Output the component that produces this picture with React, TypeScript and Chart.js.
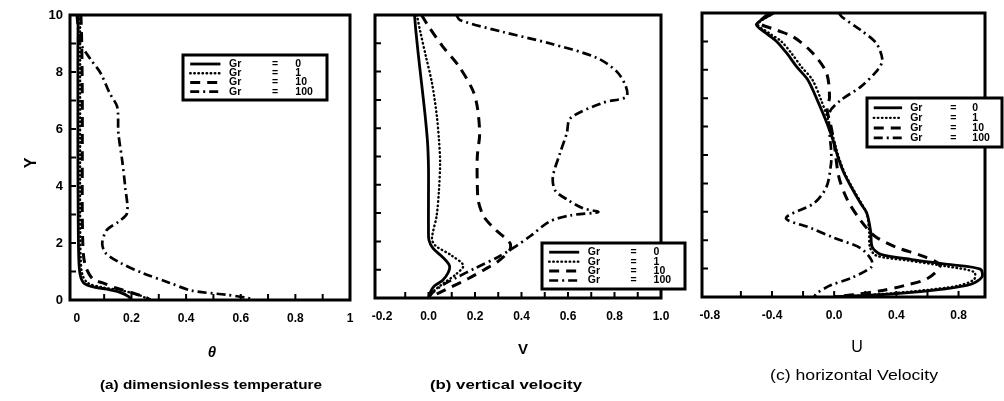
import React, { useEffect, useRef } from "react";
import { Chart, registerables } from "chart.js";

Chart.register(...registerables);

const FONT = "'Liberation Sans', Arial, sans-serif";

// Curve labels shared by the three panels
const seriesLabels = ["Gr = 0", "Gr = 1", "Gr = 10", "Gr = 100"];

// Each pair is [profile value, Y]

// (a) dimensionless temperature θ
const thetaGr0: [number, number][] = [
  [0.005, 10], [0.004, 9], [0.004, 7], [0.004, 5], [0.005, 3], [0.007, 1.5], [0.012, 0.9],
  [0.025, 0.6], [0.06, 0.46], [0.11, 0.38], [0.16, 0.26], [0.19, 0.12], [0.2, 0],
];
const thetaGr1: [number, number][] = [
  [0.012, 10], [0.012, 9], [0.012, 7], [0.012, 5], [0.012, 3], [0.014, 1.5], [0.02, 0.9],
  [0.04, 0.6], [0.09, 0.45], [0.16, 0.34], [0.22, 0.2], [0.25, 0.08], [0.26, 0],
];
const thetaGr10: [number, number][] = [
  [0.015, 10], [0.018, 9], [0.02, 7], [0.02, 5], [0.02, 3], [0.024, 1.6], [0.035, 1.1],
  [0.06, 0.72], [0.095, 0.6], [0.14, 0.43], [0.2, 0.26], [0.25, 0.1], [0.27, 0],
];
const thetaGr100: [number, number][] = [
  [0, 10], [0.004, 9.6], [0.014, 9.0], [0.05, 8.45], [0.087, 7.96], [0.12, 7.26], [0.148, 6.77],
  [0.152, 5.86], [0.166, 4.9], [0.177, 3.97], [0.184, 3.05], [0.152, 2.74], [0.11, 2.46],
  [0.093, 2.0], [0.105, 1.65], [0.16, 1.3], [0.24, 0.95], [0.34, 0.6], [0.42, 0.33],
  [0.55, 0.18], [0.62, 0.08], [0.65, 0],
];

// (b) vertical velocity V
const vGr0: [number, number][] = [
  [-0.06, 10], [-0.055, 9.5], [-0.045, 8.7], [-0.03, 7.6], [-0.015, 6.5], [-0.004, 5.5],
  [0, 4.6], [0, 3.5], [0, 2.5], [0.002, 2.05], [0.02, 1.75], [0.06, 1.45], [0.09, 1.15],
  [0.085, 0.9], [0.06, 0.62], [0.025, 0.42], [0.008, 0.2], [0, 0],
];
const vGr1: [number, number][] = [
  [-0.05, 10], [-0.035, 9.4], [-0.01, 8.5], [0.015, 7.6], [0.035, 6.5], [0.045, 5.6],
  [0.05, 4.8], [0.045, 3.8], [0.035, 2.9], [0.015, 2.1], [0.03, 1.85], [0.1, 1.5],
  [0.15, 1.15], [0.12, 0.85], [0.07, 0.55], [0.03, 0.3], [0.008, 0.12], [0, 0],
];
const vGr10: [number, number][] = [
  [-0.03, 10], [0.0, 9.6], [0.06, 8.9], [0.13, 8.2], [0.19, 7.35], [0.21, 6.75], [0.22, 5.8],
  [0.21, 5.0], [0.21, 4.0], [0.215, 3.4], [0.24, 2.85], [0.29, 2.4], [0.35, 1.95], [0.35, 1.7],
  [0.3, 1.3], [0.24, 1.0], [0.17, 0.68], [0.1, 0.4], [0.05, 0.2], [0, 0],
];
const vGr100: [number, number][] = [
  [0.12, 10], [0.135, 9.82], [0.32, 9.4], [0.52, 9.0], [0.72, 8.5], [0.81, 8.0], [0.85, 7.45],
  [0.85, 7.1], [0.75, 6.9], [0.61, 6.35], [0.595, 5.83], [0.565, 5.1], [0.535, 4.28],
  [0.545, 3.8], [0.6, 3.46], [0.665, 3.17], [0.73, 3.04], [0.61, 2.92], [0.52, 2.7],
  [0.44, 2.2], [0.37, 1.8], [0.3, 1.45], [0.2, 1.05], [0.12, 0.72], [0.06, 0.45],
  [0.02, 0.2], [0, 0],
];

// (c) horizontal velocity U
const uGr0: [number, number][] = [
  [-0.39, 10], [-0.5, 9.6], [-0.44, 9.3], [-0.37, 9.0], [-0.3, 8.55], [-0.24, 8.1],
  [-0.17, 7.65], [-0.11, 6.95], [-0.045, 6.1], [0, 5.4], [0.02, 5.0], [0.06, 4.4],
  [0.11, 3.87], [0.17, 3.3], [0.21, 2.95], [0.235, 2.3], [0.245, 1.76], [0.3, 1.5],
  [0.5, 1.32], [0.75, 1.14], [0.94, 0.98], [0.95, 0.7], [0.88, 0.45], [0.7, 0.28],
  [0.4, 0.12], [0, 0],
];
const uGr1: [number, number][] = [
  [-0.39, 10], [-0.49, 9.6], [-0.42, 9.3], [-0.34, 9.0], [-0.27, 8.55], [-0.21, 8.1],
  [-0.14, 7.65], [-0.085, 6.95], [-0.03, 6.1], [0.005, 5.4], [0.025, 5.0], [0.065, 4.4],
  [0.115, 3.87], [0.175, 3.3], [0.21, 2.95], [0.225, 2.3], [0.23, 1.76], [0.27, 1.46],
  [0.48, 1.28], [0.72, 1.08], [0.9, 0.88], [0.9, 0.62], [0.8, 0.4], [0.6, 0.25],
  [0.3, 0.1], [0, 0],
];
const uGr10: [number, number][] = [
  [-0.42, 10], [-0.48, 9.65], [-0.37, 9.4], [-0.26, 9.15], [-0.14, 8.6], [-0.05, 7.9],
  [-0.03, 7.04], [-0.045, 6.6], [-0.02, 6.0], [0, 5.4], [0.03, 4.23], [0.085, 3.42],
  [0.17, 2.7], [0.26, 2.15], [0.4, 1.75], [0.58, 1.42], [0.68, 1.1], [0.6, 0.65],
  [0.45, 0.4], [0.3, 0.22], [0.12, 0.08], [0, 0],
];
const uGr100: [number, number][] = [
  [0.03, 10], [0.05, 9.86], [0.17, 9.4], [0.27, 8.94], [0.31, 8.35], [0.28, 8.0], [0.17, 7.4],
  [0.045, 6.94], [-0.03, 6.5], [-0.03, 5.8], [-0.02, 5.2], [-0.02, 4.7], [-0.05, 3.87],
  [-0.13, 3.3], [-0.31, 2.78], [-0.15, 2.43], [0, 2.08], [0.17, 1.72], [0.24, 1.3],
  [0.24, 1.06], [0.11, 0.67], [-0.02, 0.42], [-0.11, 0.14], [-0.13, 0],
];

// Axis ticks
const yTickValues = [0, 1, 2, 3, 4, 5, 6, 7, 8, 9, 10];
const thetaTicks = [0, 0.2, 0.4, 0.6, 0.8, 1];
const thetaMinor = [0.1, 0.2, 0.3, 0.4, 0.5, 0.6, 0.7, 0.8, 0.9];
const vTicks = [-0.2, 0, 0.2, 0.4, 0.6, 0.8, 1.0];
const vMinor = [-0.1, 0, 0.1, 0.2, 0.3, 0.4, 0.5, 0.6, 0.7, 0.8, 0.9];
const uTicks = [-0.8, -0.4, 0, 0.4, 0.8];
const uMinor = [-0.6, -0.4, -0.2, 0, 0.2, 0.4, 0.6, 0.8];

// Line styles for the four curves: solid, dotted, dashed, dash-dot
const lineStyles = [
  { dash: [] as number[], width: 2.8, cap: "butt" },
  { dash: [0.5, 3.6], width: 2.4, cap: "round" },
  { dash: [10, 7], width: 3, cap: "butt" },
  { dash: [9, 4, 2, 4], width: 2.7, cap: "butt" },
];

// Free text drawn on each panel; `fit` stretches the text to a given width
type TextItem = { text: string; x: number; y: number; font: string; rotate?: boolean; fit?: number };

interface PanelSpec {
  left: number;
  width: number;
  area: { left: number; right: number; top: number; bottom: number };
  xMin: number;
  xMax: number;
  xTicks: number[];
  xMinor: number[];
  xFormat: (v: number) => string;
  yLabelled: boolean;
  series: [number, number][][];
  legend: { x: number; y: number; w: number; h: number };
  texts: TextItem[];
}

const HEIGHT = 401;

const panels: PanelSpec[] = [
  {
    left: 0,
    width: 360,
    area: { left: 70, right: 350, top: 15, bottom: 300 },
    xMin: -0.025,
    xMax: 1.0,
    xTicks: thetaTicks,
    xMinor: thetaMinor,
    xFormat: (v) => (v === 0 || v === 1 ? String(v) : v.toFixed(1)),
    yLabelled: true,
    series: [thetaGr0, thetaGr1, thetaGr10, thetaGr100],
    legend: { x: 183, y: 55, w: 144, h: 45 },
    texts: [
      { text: "Y", x: 32, y: 163, font: `bold 16px ${FONT}`, rotate: true },
      { text: "θ", x: 212, y: 353, font: `italic bold 15px ${FONT}` },
      { text: "(a) dimensionless temperature", x: 211, y: 385, font: `bold 13px ${FONT}`, fit: 222 },
    ],
  },
  {
    left: 360,
    width: 330,
    area: { left: 15, right: 301, top: 15, bottom: 298 },
    xMin: -0.23,
    xMax: 1.0,
    xTicks: vTicks,
    xMinor: vMinor,
    xFormat: (v) => v.toFixed(1),
    yLabelled: false,
    series: [vGr0, vGr1, vGr10, vGr100],
    legend: { x: 182, y: 243, w: 143, h: 46 },
    texts: [
      { text: "V", x: 163, y: 350, font: `bold 15px ${FONT}` },
      { text: "(b) vertical velocity", x: 146, y: 385, font: `bold 13px ${FONT}`, fit: 152 },
    ],
  },
  {
    left: 690,
    width: 314,
    area: { left: 12, right: 295, top: 13, bottom: 297 },
    xMin: -0.85,
    xMax: 0.97,
    xTicks: uTicks,
    xMinor: uMinor,
    xFormat: (v) => v.toFixed(1),
    yLabelled: false,
    series: [uGr0, uGr1, uGr10, uGr100],
    legend: { x: 177, y: 98, w: 135, h: 49 },
    texts: [
      { text: "U", x: 167, y: 348, font: `16px ${FONT}` },
      { text: "(c) horizontal Velocity", x: 164, y: 376, font: `14px ${FONT}`, fit: 168 },
    ],
  },
];

function makePlugins(spec: PanelSpec) {
  const frame = {
    id: "frame",
    afterDatasetsDraw(chart: any) {
      const { ctx, chartArea: a, scales } = chart;
      ctx.save();
      ctx.strokeStyle = "#000";
      ctx.lineWidth = 3;
      ctx.setLineDash([]);
      ctx.strokeRect(a.left, a.top, a.right - a.left, a.bottom - a.top);
      ctx.lineWidth = 2;
      ctx.beginPath();
      for (const v of spec.xMinor) {
        const px = scales.x.getPixelForValue(v);
        ctx.moveTo(px, a.bottom);
        ctx.lineTo(px, a.bottom - 6);
      }
      for (const v of yTickValues) {
        if (v === 0 || v === 10) continue;
        const py = scales.y.getPixelForValue(v);
        ctx.moveTo(a.left, py);
        ctx.lineTo(a.left + 6, py);
      }
      ctx.stroke();
      ctx.restore();
    },
  };

  const legendBox = {
    id: "legendBox",
    afterDraw(chart: any) {
      const { ctx } = chart;
      const { x, y, w, h } = spec.legend;
      ctx.save();
      ctx.fillStyle = "#fff";
      ctx.fillRect(x, y, w, h);
      ctx.strokeStyle = "#000";
      ctx.lineWidth = 3;
      ctx.setLineDash([]);
      ctx.strokeRect(x, y, w, h);
      chart.data.datasets.forEach((ds: any, i: number) => {
        const ry = y + h * (0.2 + 0.205 * i);
        ctx.setLineDash(ds.borderDash || []);
        ctx.lineCap = ds.borderCapStyle || "butt";
        ctx.lineWidth = ds.borderWidth;
        ctx.beginPath();
        ctx.moveTo(x + 0.05 * w, ry);
        ctx.lineTo(x + 0.26 * w, ry);
        ctx.stroke();
        ctx.setLineDash([]);
        ctx.lineCap = "butt";
        const [name, num] = String(ds.label).split(" = ");
        ctx.fillStyle = "#000";
        ctx.font = `bold 10.5px ${FONT}`;
        ctx.textBaseline = "middle";
        ctx.textAlign = "left";
        ctx.fillText(name, x + 0.32 * w, ry);
        ctx.textAlign = "center";
        ctx.fillText("=", x + 0.64 * w, ry);
        ctx.textAlign = "left";
        ctx.fillText(num, x + 0.78 * w, ry);
      });
      ctx.restore();
    },
  };

  const panelText = {
    id: "panelText",
    afterDraw(chart: any) {
      const { ctx } = chart;
      ctx.save();
      ctx.fillStyle = "#000";
      ctx.textAlign = "center";
      ctx.textBaseline = "middle";
      for (const t of spec.texts) {
        ctx.font = t.font;
        ctx.save();
        ctx.translate(t.x, t.y);
        if (t.rotate) ctx.rotate(-Math.PI / 2);
        if (t.fit) {
          const m = ctx.measureText(t.text).width;
          if (m > 0) ctx.scale(t.fit / m, 1);
        }
        ctx.fillText(t.text, 0, 0);
        ctx.restore();
      }
      ctx.restore();
    },
  };

  return [frame, legendBox, panelText];
}

function Panel({ spec }: { spec: PanelSpec }) {
  const ref = useRef<HTMLCanvasElement>(null);

  useEffect(() => {
    if (!ref.current) return;
    const { area } = spec;
    const chart = new Chart(ref.current, {
      type: "line",
      data: {
        datasets: spec.series.map((pts, i) => ({
          label: seriesLabels[i],
          data: pts.map(([x, y]) => ({ x, y })),
          borderColor: "#000",
          borderWidth: lineStyles[i].width,
          borderDash: lineStyles[i].dash,
          borderCapStyle: lineStyles[i].cap as CanvasLineCap,
          pointRadius: 0,
          tension: 0.3,
          fill: false,
        })),
      },
      options: {
        animation: false,
        responsive: false,
        maintainAspectRatio: false,
        layout: {
          padding: { left: 0, right: spec.width - area.right, top: area.top, bottom: 0 },
        },
        plugins: {
          legend: { display: false },
          tooltip: { enabled: false },
        },
        scales: {
          x: {
            type: "linear",
            min: spec.xMin,
            max: spec.xMax,
            afterBuildTicks: (s: any) => {
              s.ticks = spec.xTicks.map((value) => ({ value }));
            },
            afterFit: (s: any) => {
              s.height = HEIGHT - area.bottom;
              s.paddingLeft = 0;
              s.paddingRight = 0;
            },
            grid: { display: false, drawTicks: false },
            border: { display: false },
            ticks: {
              autoSkip: false,
              maxRotation: 0,
              padding: 11,
              color: "#000",
              font: { family: FONT, size: 12, weight: "bold" },
              callback: (v: any) => spec.xFormat(Number(v)),
            },
          },
          y: {
            type: "linear",
            min: 0,
            max: 10,
            afterBuildTicks: (s: any) => {
              s.ticks = yTickValues.map((value) => ({ value }));
            },
            afterFit: (s: any) => {
              s.width = area.left;
              s.paddingTop = 0;
              s.paddingBottom = 0;
            },
            grid: { display: false, drawTicks: false },
            border: { display: false },
            ticks: {
              display: spec.yLabelled,
              autoSkip: false,
              padding: 7,
              color: "#000",
              font: { family: FONT, size: 13, weight: "bold" },
              callback: (v: any) => (Number(v) % 2 === 0 ? String(v) : ""),
            },
          },
        },
      },
      plugins: makePlugins(spec),
    } as any);
    return () => chart.destroy();
  }, [spec]);

  return (
    <canvas
      ref={ref}
      width={spec.width}
      height={HEIGHT}
      style={{ position: "absolute", left: spec.left, top: 0, width: spec.width, height: HEIGHT }}
    />
  );
}

export default function App() {
  return (
    <div
      style={{
        position: "fixed",
        left: 0,
        top: 0,
        width: 1004,
        height: HEIGHT,
        background: "#fff",
        overflow: "hidden",
      }}
    >
      {panels.map((p, i) => (
        <Panel key={i} spec={p} />
      ))}
    </div>
  );
}
